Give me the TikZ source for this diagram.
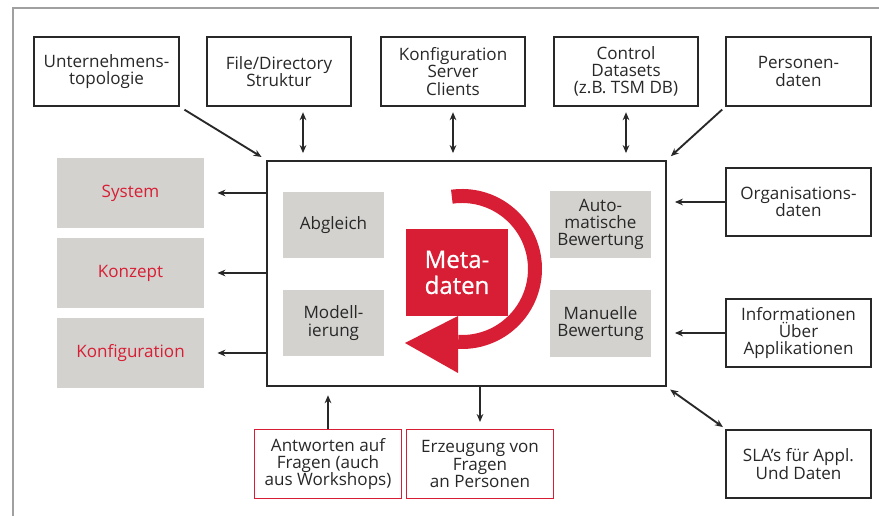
\documentclass[tikz,border=0pt]{standalone}
\usepackage{fontspec}
\setmainfont{Open Sans}
\usetikzlibrary{arrows.meta}

\definecolor{metared}{RGB}{216,30,52}
\definecolor{boxgray}{RGB}{211,210,207}
\definecolor{inkgray}{RGB}{40,40,40}
\definecolor{framegray}{RGB}{160,160,160}

\newcommand{\boxfont}{\fontsize{12.8}{12.9}\selectfont}

\tikzset{
  srcbox/.style={draw=inkgray, line width=1.6pt, fill=white, minimum width=108.5pt, minimum height=51.5pt, align=center, inner sep=1pt, font=\boxfont, text=inkgray},
  outbox/.style={fill=boxgray, minimum width=110pt, minimum height=52pt, align=center, inner sep=1pt, font=\boxfont, text=metared},
  taskbox/.style={fill=boxgray, minimum width=75.75pt, minimum height=50pt, align=center, inner sep=1pt, font=\boxfont, text=inkgray},
  askbox/.style={draw=metared, line width=1pt, fill=white, minimum width=110pt, minimum height=52pt, align=center, inner sep=1pt, font=\boxfont, text=inkgray},
  flow/.style={line width=1.4pt, draw=inkgray, -{Stealth[length=6pt,width=5pt]}},
  twoway/.style={line width=1.4pt, draw=inkgray, {Stealth[length=6pt,width=5pt]}-{Stealth[length=6pt,width=5pt]}},
}

\begin{document}
\begin{tikzpicture}[x=0.75pt,y=0.75pt,yscale=-1,xscale=1]
\useasboundingbox (0,0) rectangle (879,516);

%Frame
\draw [framegray, line width=0.8pt] (13,516) -- (13,8) -- (879,8) ;

%Sources on top
\node [srcbox] (unt) at (106.5,71.5) {Unternehmens-\\topologie};
\node [srcbox] (file) at (279,71.5) {File/Directory\\Struktur};
\node [srcbox] (konf) at (453,71.5) {Konfiguration\\Server\\Clients};
\node [srcbox] (ctrl) at (626,71.5) {Control\\Datasets\\(z.B. TSM DB)};
\node [srcbox] (pers) at (798.5,71.5) {Personen-\\daten};

%Sources on the right
\node [srcbox] (org) at (798.5,202) {Organisations-\\daten};
\node [srcbox] (info) at (798.5,333) {Informationen\\Über\\Applikationen};
\node [srcbox] (sla) at (798.5,464) {SLA’s für Appl.\\Und Daten};

%Main box
\node [draw=inkgray, line width=1.6pt, fill=white, minimum width=299pt, minimum height=169pt] (main) at (466.5,273.5) {};

%Tasks inside
\node [taskbox] (abgl) at (333.5,225) {Abgleich};
\node [taskbox] (modell) at (333.5,323) {Modell-\\ierung};
\node [taskbox] (auto) at (600.5,224.5) {Auto-\\matische\\Bewertung};
\node [taskbox] (manu) at (600.5,323.5) {Manuelle\\Bewertung};

%Metadaten
\node [fill=metared, text=white, minimum width=76.5pt, minimum height=65pt, align=center, inner sep=1pt, font=\fontsize{18}{19.5}\selectfont\addfontfeatures{FakeBold=0.8}] (meta) at (457,272.5) {Meta-\\daten};

%Circular arrow
\draw [metared, line width=10.5pt] (462,269) ++(-98:73) arc (-98:93:73) ;
\fill [metared] (405,343) -- (458,316) -- (458,373) -- cycle ;

%Results on the left
\node [outbox] (sys) at (130.5,193) {System};
\node [outbox] (konz) at (130.5,273) {Konzept};
\node [outbox] (konfig) at (130.5,353) {Konfiguration};

%Questions below
\node [askbox] (antw) at (328,464) {Antworten auf\\Fragen (auch\\aus Workshops)};
\node [askbox] (erz) at (480,464) {Erzeugung von\\Fragen\\an Personen};

%Straight Lines
\draw [flow, shorten <=4pt, shorten >=4pt] (unt.south east) -- (main.north west) ;
\draw [twoway, shorten <=4pt, shorten >=5pt] ([xshift=18pt]file.south) -- ([xshift=18pt]file.south |- main.north) ;
\draw [twoway, shorten <=4pt, shorten >=5pt] (konf.south) -- (konf.south |- main.north) ;
\draw [twoway, shorten <=4pt, shorten >=5pt] (ctrl.south) -- (ctrl.south |- main.north) ;
\draw [flow, shorten <=3pt, shorten >=4pt] (pers.south west) -- (main.north east) ;

\draw [flow, shorten >=6pt] (org.west) -- (org.west -| main.east) ;
\draw [flow, shorten >=6pt] (info.west) -- (info.west -| main.east) ;
\draw [twoway, shorten <=3pt, shorten >=2pt] (main.south east) -- (sla.north west) ;

\draw [flow, shorten >=10pt] (main.west |- sys.east) -- (sys.east) ;
\draw [flow, shorten >=10pt] (main.west |- konz.east) -- (konz.east) ;
\draw [flow, shorten >=10pt] (main.west |- konfig.east) -- (konfig.east) ;

\draw [flow, shorten >=6pt] (antw.north) -- (antw.north |- main.south) ;
\draw [flow, shorten >=5pt] (erz.north |- main.south) -- (erz.north) ;

\end{tikzpicture}
\end{document}
